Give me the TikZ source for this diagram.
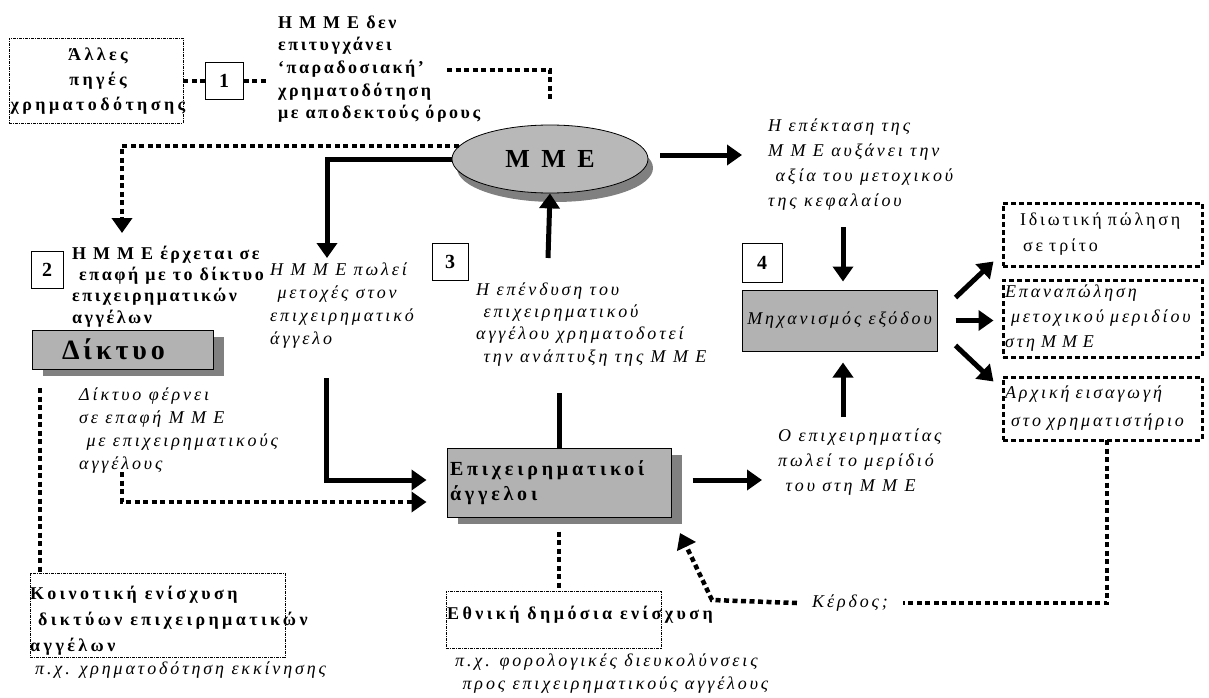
\documentclass[tikz,border=0pt]{standalone}
\usepackage{fontspec}
\setmainfont{Liberation Serif}
\newfontfamily\grkfont[LetterSpace=16]{Liberation Serif}
\newfontfamily\grkbold[LetterSpace=19]{Liberation Serif}
\newfontfamily\grkboldn[LetterSpace=14]{Liberation Serif}
\usetikzlibrary{arrows.meta, shapes.geometric, shadows, positioning}

\definecolor{boxgrey}{RGB}{178,178,178}
\definecolor{ellgrey}{RGB}{184,184,184}
\definecolor{shadegrey}{RGB}{128,128,128}

\begin{document}
\begin{tikzpicture}[x=1pt, y=-1pt,
    every node/.style={inner sep=0pt},
    bftext/.style={font=\grkbold\fontsize{18}{#1}\selectfont\bfseries, align=left, anchor=base west},
    bftext/.default=25,
    ittext/.style={font=\grkfont\fontsize{18}{#1}\selectfont\itshape, align=left, anchor=base west},
    ittext/.default=24,
    numbox/.style={draw, line width=1pt, minimum width=38pt, minimum height=37pt, font=\fontsize{20}{20}\selectfont\bfseries},
    thinbox/.style={draw, line width=0.7pt, dash pattern=on 3pt off 1pt on 1pt off 1pt},
    dotbox/.style={draw, line width=3pt, dash pattern=on 5pt off 3pt, minimum width=199pt, text width=195pt, inner xsep=2pt},
    greybox/.style={draw, line width=1pt, fill=boxgrey},
    shadowed/.style={drop shadow={shadow xshift=11pt, shadow yshift=-7pt, fill=shadegrey, opacity=1}},
    solidln/.style={line width=5pt},
    solidarr/.style={solidln, -{Triangle[length=15pt, width=20pt]}},
    dotln/.style={line width=4.5pt, dash pattern=on 5pt off 3.5pt},
    dotarr/.style={dotln, -{Triangle[length=15pt, width=20pt]}},
]
\useasboundingbox (0,0) rectangle (1209,698);

% other sources of finance
\node[thinbox, minimum width=174pt, minimum height=85pt] (other) at (96,81) {};
\node[bftext, align=center, anchor=center] (othertxt) at (98,81) {Άλλες\\ πηγές\\ χρηματοδότησης};
\node[numbox] (one) at (224,81) {1};
\coordinate (finL) at (266,81);
\draw[dotln] (other.east) -- (one.west);
\draw[dotln] (one.east) -- (finL);
\node[bftext=22.7, font=\grkboldn\fontsize{18}{22.7}\selectfont\bfseries] (fin) at (278,119) {Η Μ Μ Ε δεν\\ επιτυγχάνει\\ ‘παραδοσιακή’\\ χρηματοδότηση\\ με αποδεκτούς όρους};

% the SME
\node[ellipse, draw, line width=0.8pt, fill=ellgrey, minimum width=196pt, minimum height=68pt,
      drop shadow={shadow xshift=5pt, shadow yshift=-9pt, fill=shadegrey, opacity=1},
      font=\grkbold\fontsize{26}{26}\selectfont\bfseries] (mme) at (550,159) {Μ Μ Ε};
\coordinate (finR) at (447,70);
\draw[dotln, shorten >=22pt] (finR) -| (mme.north);

% network
\node[numbox, minimum width=32pt] (two) at (47,269.5) {2};
\node[bftext=21.3, font=\grkboldn\fontsize{18}{21.3}\selectfont\bfseries] (contact) at (72,323) {Η Μ Μ Ε έρχεται σε\\ \ επαφή με το δίκτυο\\ επιχειρηματικών\\ αγγέλων};
\node[greybox, shadowed, minimum width=181pt, minimum height=39pt, text width=121pt, align=left,
      font=\grkboldn\fontsize{28}{28}\selectfont\bfseries] (net) at (122.5,349.5) {Δίκτυο};
\node[ittext=23] (nettxt) at (79,469) {Δίκτυο φέρνει\\ σε επαφή Μ Μ Ε\\ \ με επιχειρηματικούς\\ αγγέλους};
\coordinate (netin) at (122,233);
\draw[dotarr] (mme.172) -| (netin);

% sale of shares / investment
\node[ittext=22.7] (sell) at (270,344) {Η Μ Μ Ε πωλεί\\ \ μετοχές στον\\ επιχειρηματικό\\ άγγελο};
\node[numbox, minimum width=36pt] (three) at (450,261.5) {3};
\node[ittext=22.3] (invest) at (476,362) {Η επένδυση του\\ \ επιχειρηματικού\\ αγγέλου χρηματοδοτεί\\ \ την ανάπτυξη της Μ Μ Ε};

% business angels
\node[greybox, shadowed, minimum width=224pt, minimum height=69pt, text width=218pt,
      font=\grkbold\fontsize{20}{25}\selectfont\bfseries, align=left] (angels) at (559,482.5) {Επιχειρηματικοί\\ άγγελοι};

\coordinate (sellA) at (327,258);
\coordinate (sellB) at (326,378);
\coordinate (netB) at (122,472);
\coordinate (invA) at (548,258);
\coordinate (invB) at (559,393);
\draw[solidarr] (mme.west) -| (sellA);
\draw[solidarr, shorten >=20pt] (sellB) |- ([yshift=2.5pt]angels.west);
\draw[dotarr, shorten >=20pt] (netB) |- ([yshift=-19.5pt]angels.west);
\draw[solidarr] (invA) -- (mme.south);
\draw[solidln] (invB) -- (angels.north);

% exit
\coordinate (growA) at (742,155);
\draw[solidarr, shorten <=12pt] (mme.east |- growA) -- (growA);
\node[ittext=25] (grow) at (768,206) {Η επέκταση της\\ Μ Μ Ε αυξάνει την\\ \ αξία του μετοχικού\\ της κεφαλαίου};
\node[numbox, minimum width=40pt, minimum height=39pt] (four) at (762,262.5) {4};
\node[greybox, minimum width=195pt, minimum height=61pt,
      font=\grkfont\fontsize{18}{24}\selectfont\itshape] (mech) at (839.5,320.5) {Μηχανισμός εξόδου};
\coordinate (growB) at (843,227);
\coordinate (exitA) at (843,417);
\draw[solidarr, shorten >=8pt] (growB) -- (mech.north -| growB);
\draw[solidarr, shorten >=11pt] (exitA) -- (mech.south -| exitA);
\node[ittext=25] (seller) at (778,491) {Ο επιχειρηματίας\\ πωλεί το μερίδιό\\ \ του στη Μ Μ Ε};
\coordinate (exitB) at (762,480);
\draw[solidarr, shorten <=21pt] (angels.east |- exitB) -- (exitB);

% exit routes
\node[dotbox, minimum height=63pt, font=\grkfont\fontsize{18}{26}\selectfont, align=left] (r1) at (1102.5,234.5) {\hspace*{15pt}Ιδιωτική πώληση\\ \hspace*{18pt}σε τρίτο};
\node[dotbox, minimum height=77pt, ittext=25, anchor=center] (r2) at (1102.5,318.5) {Επαναπώληση\\ \ μετοχικού μεριδίου\\ στη Μ Μ Ε};
\node[dotbox, minimum height=63pt, ittext=28, anchor=center] (r3) at (1102.5,408.5) {Αρχική εισαγωγή\\ \ στο χρηματιστήριο};
\draw[solidarr] (mech.north east) ++(18,8) -- ([xshift=-8pt, yshift=6pt]r1.south west);
\draw[solidarr, shorten <=18pt, shorten >=8pt] (mech.east) -- (mech.east -| r2.west);
\draw[solidarr] (mech.south east) ++(18,-6) -- ([xshift=-8pt, yshift=-6pt]r3.north west);

% profit
\node[ittext, anchor=center, inner xsep=15pt] (profit) at (850,603) {Κέρδος;};
\coordinate (profitR) at (1107,440);
\coordinate (profitC) at (712,600);
\coordinate (profitT) at (680,533);
\draw[dotln] (profitR) |- (profit.east);
\draw[dotarr] (profit.west) -- (profitC) -- (profitT);

% public support
\node[thinbox, minimum width=215pt, minimum height=57pt] (nat) at (553.5,619.5) {};
\node[bftext] (nattxt) at (447,619) {Εθνική δημόσια ενίσχυση};
\draw[dotln, shorten <=14pt] (angels.south) -- (nat.north -| angels.south);
\node[ittext=23] (natex) at (455,689) {π.χ. φορολογικές διευκολύνσεις\\ \ προς επιχειρηματικούς αγγέλους};

\node[thinbox, minimum width=255pt, minimum height=84pt] (comm) at (157.5,615) {};
\node[bftext=26] (commtxt) at (30,651) {Κοινοτική ενίσχυση\\ \ δικτύων επιχειρηματικών\\ αγγέλων};
\coordinate (commA) at (40,388);
\draw[dotln] (commA) -- (comm.north -| commA);
\node[ittext] (commex) at (35,674) {π.χ. χρηματοδότηση εκκίνησης};
\end{tikzpicture}
\end{document}
